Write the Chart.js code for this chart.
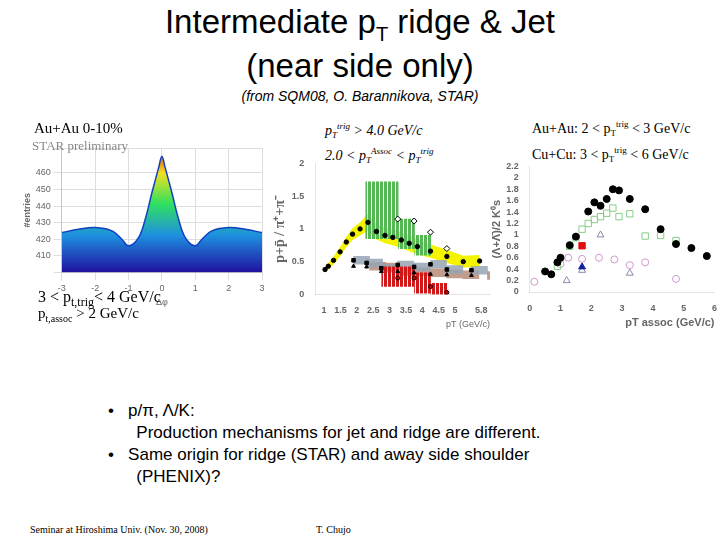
<!DOCTYPE html>
<html><head><meta charset="utf-8">
<script src="https://cdn.jsdelivr.net/npm/chart.js@4"></script>
<style>
body{margin:0;width:720px;height:540px;background:#fff;position:relative;overflow:hidden;font-family:"Liberation Sans",Arial,sans-serif}
.a{position:absolute;white-space:nowrap}
.serif{font-family:"Liberation Serif","Times New Roman",serif}
canvas{display:block}
</style></head><body>
<div class="a" style="left:0;width:720px;top:0px;text-align:center;font-size:33px;line-height:44px">Intermediate p<sub style="font-size:20px;line-height:0">T</sub> ridge &amp; Jet<br>(near side only)</div>
<div class="a" style="left:0;width:720px;top:88px;text-align:center;font-size:14px;font-style:italic">(from SQM08, O. Barannikova, STAR)</div>

<div class="a" style="left:22px;top:128px;width:250px;height:180px"><canvas id="c1"></canvas></div>
<div class="a serif" style="left:34px;top:120px;font-size:15px">Au+Au 0-10%</div>
<div class="a serif" style="left:32px;top:138px;font-size:13px;color:#888">STAR preliminary</div>
<div class="a serif" style="left:38px;top:288px;font-size:16px">3 &lt; p<sub style="font-size:12px">t,trig</sub>&lt; 4 GeV/c</div>
<div class="a serif" style="left:38px;top:305px;font-size:15px">p<sub style="font-size:10px">t,assoc</sub> &gt; 2 GeV/c</div>

<div class="a serif" style="left:325px;top:118px;font-size:14px;font-style:italic;line-height:16px">p<sub style="font-size:9px">T</sub><sup style="font-size:9px">trig</sup> &gt; 4.0 GeV/c<br>2.0 &lt; p<sub style="font-size:9px">T</sub><sup style="font-size:9px">Assoc</sup> &lt; p<sub style="font-size:9px">T</sub><sup style="font-size:9px">trig</sup></div>
<div class="a" style="left:272px;top:155px;width:230px;height:175px"><canvas id="c2"></canvas></div>

<div class="a serif" style="left:532px;top:116px;font-size:14px;line-height:17px">Au+Au: 2 &lt; p<sub style="font-size:9px">T</sub><sup style="font-size:9px">trig</sup> &lt; 3 GeV/c<br>Cu+Cu: 3 &lt; p<sub style="font-size:9px">T</sub><sup style="font-size:9px">trig</sup> &lt; 6 GeV/c</div>
<div class="a" style="left:490px;top:158px;width:230px;height:172px"><canvas id="c3"></canvas></div>

<div class="a" style="left:108px;top:400px;font-size:17px;line-height:22px">•&nbsp;&nbsp; p/π, Λ/K:<br>&nbsp;&nbsp;&nbsp;&nbsp;&nbsp; Production mechanisms for jet and ridge are different.<br>•&nbsp;&nbsp; Same origin for ridge (STAR) and away side shoulder<br>&nbsp;&nbsp;&nbsp;&nbsp;&nbsp; (PHENIX)?</div>
<div class="a serif" style="left:30px;top:524px;font-size:10px">Seminar at Hiroshima Univ. (Nov. 30, 2008)</div>
<div class="a serif" style="left:316px;top:524px;font-size:10px">T. Chujo</div>

<script>
// ---- left: Δφ correlation (x10^3 entries)
const dphi=[-3,-2.5,-2,-1.5,-1.2,-1,-0.7,-0.5,-0.3,-0.1,0,0.1,0.3,0.5,0.7,1,1.2,1.5,2,2.5,3];
const entries=[424,426,427,425,420,416,421,432,448,463,470,463,448,432,421,416,420,425,427,426,424];
// ---- middle: p+pbar/(pi++pi-)
const ptAuAu=[1.03,1.13,1.29,1.49,1.68,1.87,2.1,2.34,2.6,2.86,3.1,3.36,3.6,3.85,4.25,4.75,5.25,5.75];
const rAuAu=[0.38,0.43,0.52,0.65,0.80,0.92,1.0,1.1,0.96,0.9,0.87,0.83,0.78,0.73,0.66,0.58,0.5,0.51];
const sysAuAu=[0.05,0.05,0.06,0.07,0.08,0.09,0.1,0.13,0.12,0.12,0.12,0.12,0.12,0.12,0.1,0.1,0.09,0.09];
const ptBins=[1.9,2.3,2.75,3.25,3.75,4.25,4.75,5.5];
const rCuCu=[0.52,0.48,0.40,0.45,0.42,0.46,0.38,0.37];
const rdAu=[0.43,0.42,0.35,0.35,0.33,0.31,0.30,0.29];
const ptJR=[3.25,3.75,4.25,4.75];
const rJet=[0.25,0.25,0.12,0.03];
const jetLo=[0.12,0.12,0.02,0.0], jetHi=[0.42,0.42,0.33,0.17];
const rRidge=[1.15,1.12,0.95,0.70];
const ridgeLo=[0.85,0.85,0.7,0.6], ridgeHi=[1.72,1.72,1.15,0.9];
// ---- right: Lambda/K0s
const xAA05=[0.5,0.7,0.9,1.0,1.3,1.5,1.9,2.1,2.3,2.5,2.7,2.9,3.25,3.75,4.25,4.75,5.25,5.75];
const yAA05=[0.36,0.31,0.52,0.60,0.82,0.97,1.41,1.57,1.51,1.63,1.80,1.78,1.63,1.45,1.10,0.84,0.77,0.63];
const xAA2040=[0.9,1.3,1.5,1.7,1.9,2.1,2.3,2.5,2.7,2.9,3.25,3.75,4.25,4.75];
const yAA2040=[0.45,0.80,0.95,1.10,1.20,1.27,1.32,1.38,1.47,1.32,1.37,0.98,0.99,0.90];
const xpp=[0.15,1.0,1.25,1.7,2.25,2.75,3.25,3.75,4.75];
const ypp=[0.18,0.49,0.60,0.58,0.60,0.57,0.47,0.52,0.23];
const xRidge=[1.7], yRidge=[0.81];
const xJetAu=[1.7], yJetAu=[0.44];
const xJetCu=[1.2,1.7,2.3,3.25], yJetCu=[0.2,0.38,1.0,0.33];

const xy=(xs,ys)=>xs.map((x,i)=>({x,y:ys[i]}));
function stripes(color){const c=document.createElement('canvas');c.width=4;c.height=4;const g=c.getContext('2d');g.fillStyle=color;g.fillRect(0,0,3,4);return g.createPattern(c,'repeat');}
const small={size:9,family:'Liberation Sans'};
const bold={size:9,family:'Liberation Sans',weight:'bold'};

new Chart(document.getElementById('c1'),{type:'line',
 data:{datasets:[{data:xy(dphi,entries),borderColor:'#1040c0',borderWidth:1.5,pointRadius:0,tension:0.35,fill:'start',
  backgroundColor:(ctx)=>{const a=ctx.chart.chartArea;if(!a)return '#3a8ee0';const g=ctx.chart.ctx.createLinearGradient(0,a.bottom,0,a.top);g.addColorStop(0,'#2010a0');g.addColorStop(0.3,'#1e90e0');g.addColorStop(0.55,'#30e060');g.addColorStop(0.8,'#f0e020');g.addColorStop(1,'#e02010');return g;}}]},
 options:{responsive:true,maintainAspectRatio:false,animation:false,plugins:{legend:{display:false}},layout:{padding:{top:20,right:10}},
  scales:{x:{type:'linear',min:-3,max:3,title:{display:true,text:'Δφ',font:small,padding:0},ticks:{font:small,stepSize:1},grid:{color:'#ddd'}},
   y:{min:400,max:475,title:{display:true,text:'#entries',font:bold,padding:0},ticks:{font:small,stepSize:10,autoSkip:false,callback:v=>v>=410&&v<=470?v:''},grid:{color:'#ddd'}}}}});

new Chart(document.getElementById('c2'),{type:'line',
 data:{datasets:[
  {type:'bar',data:ptJR.map((x,i)=>({x,y:[ridgeLo[i],ridgeHi[i]]})),backgroundColor:stripes('#55b855'),barThickness:16,order:5},
  {type:'bar',data:ptJR.map((x,i)=>({x,y:[jetLo[i],jetHi[i]]})),backgroundColor:stripes('#d01818'),barThickness:16,order:5},
  {type:'bar',data:ptBins.map((x,i)=>({x,y:[rCuCu[i]-0.06,rCuCu[i]+0.06]})),backgroundColor:'rgba(150,165,180,0.85)',barThickness:16,order:6},
  {type:'bar',data:ptBins.map((x,i)=>({x,y:[rdAu[i]-0.06,rdAu[i]+0.06]})),backgroundColor:'rgba(185,140,120,0.85)',barThickness:16,order:6},
  {data:xy(ptAuAu,rAuAu.map((v,i)=>v+sysAuAu[i])),borderWidth:0,pointRadius:0,fill:false,order:7},
  {data:xy(ptAuAu,rAuAu.map((v,i)=>v-sysAuAu[i])),borderWidth:0,pointRadius:0,fill:'-1',backgroundColor:'#f4f400',order:7},
  {data:xy(ptAuAu,rAuAu),showLine:false,pointStyle:'circle',pointRadius:2.2,backgroundColor:'#000',borderColor:'#000',order:1},
  {data:xy(ptBins,rCuCu),showLine:false,pointStyle:'rect',pointRadius:2.5,backgroundColor:'#000',borderColor:'#000',order:1},
  {data:xy(ptBins,rdAu),showLine:false,pointStyle:'triangle',pointRadius:2.2,backgroundColor:'#000',borderColor:'#000',order:1},
  {data:xy(ptJR,rJet),showLine:false,pointStyle:'circle',pointRadius:2,backgroundColor:'#c00',borderColor:'#000',order:1},
  {data:xy(ptJR,rRidge),showLine:false,pointStyle:'rectRot',pointRadius:3,backgroundColor:'#fff',borderColor:'#000',order:1}
 ]},
 options:{responsive:true,maintainAspectRatio:false,animation:false,plugins:{legend:{display:false}},layout:{padding:{right:12}},
  scales:{x:{type:'linear',min:1,max:5.8,title:{display:true,text:'pT (GeV/c)',font:small,padding:0,align:'end'},ticks:{font:bold,stepSize:0.5,autoSkip:false,maxRotation:0,callback:v=>v===1?'1':(v%1===0?v:v.toFixed(1))},grid:{display:false}},
   y:{min:0,max:2,title:{display:true,text:'p+p̄ / π⁺+π⁻',font:{size:14,weight:'bold',family:'Liberation Serif'},padding:0},ticks:{font:bold,stepSize:0.5,autoSkip:false,callback:v=>v%1===0?v:v.toFixed(1)},grid:{display:false}}}}});

new Chart(document.getElementById('c3'),{type:'scatter',
 data:{datasets:[
  {label:'inclusive pT, 0-5% Au+Au',data:xy(xAA05,yAA05),pointRadius:3.5,backgroundColor:'#000',borderColor:'#000'},
  {label:'inclusive pT, 20-40% Au+Au',data:xy(xAA2040,yAA2040),pointStyle:'rect',pointRadius:4.5,backgroundColor:'transparent',borderColor:'#8c8',borderWidth:1},
  {label:'inclusive pT, p+p',data:xy(xpp,ypp),pointRadius:3.5,backgroundColor:'transparent',borderColor:'#c9c',borderWidth:1},
  {label:'ridge, 0-10% Au+Au',data:xy(xRidge,yRidge),pointStyle:'rect',pointRadius:4.5,backgroundColor:'#e01010',borderColor:'#e01010'},
  {label:'jet, 0-10% Au+Au',data:xy(xJetAu,yJetAu),pointStyle:'triangle',pointRadius:4,backgroundColor:'#1020a0',borderColor:'#1020a0'},
  {label:'jet, 0-54% Cu+Cu',data:xy(xJetCu,yJetCu),pointStyle:'triangle',pointRadius:4,backgroundColor:'transparent',borderColor:'#88a',borderWidth:1}
 ]},
 options:{responsive:true,maintainAspectRatio:false,animation:false,plugins:{legend:{display:false}},
  scales:{x:{min:0,max:6,title:{display:true,text:'pT assoc (GeV/c)',font:{size:11,weight:'bold'},padding:0,align:'end'},ticks:{font:bold,stepSize:1,autoSkip:false},grid:{display:false}},
   y:{min:0,max:2.2,title:{display:true,text:'(Λ+Λ̄)/2 K⁰s',font:{size:11,weight:'bold'},padding:0},ticks:{font:bold,stepSize:0.2,autoSkip:false,callback:v=>Math.round(v*10)/10},grid:{display:false}}}}});
</script>
</body></html>
